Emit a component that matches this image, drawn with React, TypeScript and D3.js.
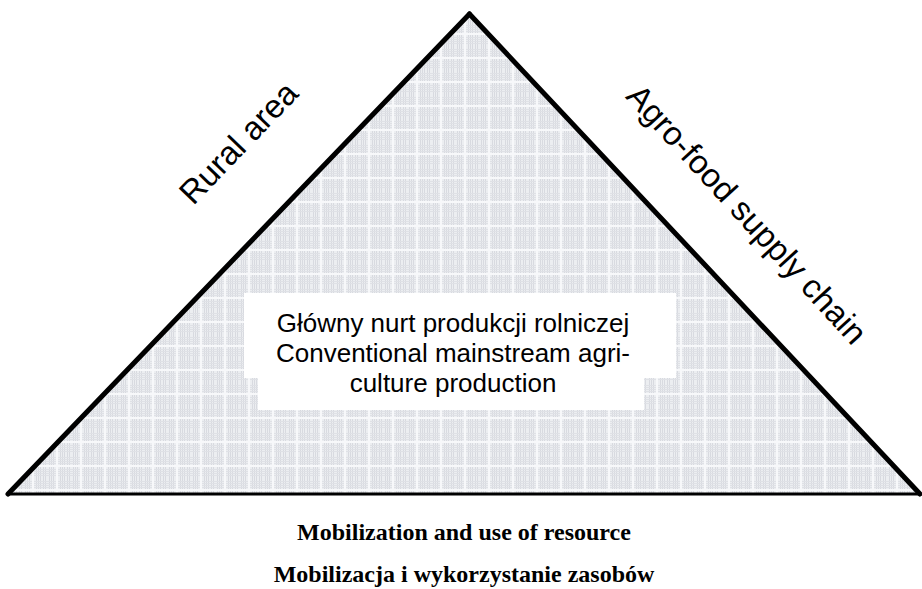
import React from "react";
import * as d3 from "d3";

// triangle corners in unit space (x: 0..1 across the base, y: 0..1 up)
const cornerNames = ["baseLeft", "apex", "baseRight"];
const cornerX = [0, 0.506, 1];
const cornerY = [0, 1, 0];

const sideLabels = ["Rural area", "Agro-food supply chain"];
const centreLines = [
    "Główny nurt produkcji rolniczej",
    "Conventional mainstream agri-",
    "culture production",
];
const bottomLines = [
    "Mobilization and use of resource",
    "Mobilizacja i wykorzystanie zasobów",
];

// pattern stripe offsets (px inside a 24px tile)
const stripeV = [1, 3, 5, 12, 14, 16, 19, 21];
const stripeH = [1, 3, 5, 7, 13, 15, 17, 19];

const W = 922;
const H = 589;

export default function App() {
    const x = d3.scaleLinear().domain([0, 1]).range([8, 920]);
    const y = d3.scaleLinear().domain([0, 1]).range([494, 14]);

    const pts: [number, number][] = cornerNames.map((_, i) => [x(cornerX[i]), y(cornerY[i])]);
    const tri = d3.line()(pts) + "Z";

    const [bl, ap, br] = pts;

    // place a label along an edge: t = fraction along, off = perpendicular distance
    const along = (a: [number, number], b: [number, number], t: number, off: number) => {
        const dx = b[0] - a[0];
        const dy = b[1] - a[1];
        const len = Math.hypot(dx, dy);
        const nx = dy / len;
        const ny = -dx / len;
        return {
            x: a[0] + dx * t + nx * off,
            y: a[1] + dy * t + ny * off,
            angle: (Math.atan2(dy, dx) * 180) / Math.PI,
        };
    };

    const left = along(bl, ap, 0.62, 66);
    const right = along(ap, br, 0.51, 54);

    const cx = 453;

    return (
        <svg width={W} height={H} style={{ position: "absolute", left: 0, top: 0, background: "#fff" }}>
            <defs>
                <pattern id="grid" width={24} height={24} patternUnits="userSpaceOnUse">
                    <rect width={24} height={24} fill="#eceef1" />
                    {stripeV.map((v) => (
                        <rect key={"v" + v} x={v} y={0} width={1} height={24} fill="#d8dae0" />
                    ))}
                    {stripeH.map((h) => (
                        <rect key={"h" + h} x={0} y={h} width={24} height={1} fill="#dfe1e6" />
                    ))}
                    <rect x={8} y={0} width={2} height={24} fill="#f7f8fa" />
                    <rect x={0} y={9} width={24} height={2} fill="#f7f8fa" />
                </pattern>
            </defs>

            <path d={tri} fill="url(#grid)" stroke="none" />

            {/* white text panel */}
            <rect x={244} y={293} width={432} height={85} fill="#fff" />
            <rect x={258} y={376} width={386} height={34} fill="#fff" />

            <line x1={bl[0]} y1={bl[1]} x2={ap[0]} y2={ap[1]} stroke="#000" strokeWidth={5} strokeLinecap="round" />
            <line x1={ap[0]} y1={ap[1]} x2={br[0]} y2={br[1]} stroke="#000" strokeWidth={5} strokeLinecap="round" />
            <line x1={bl[0]} y1={bl[1]} x2={br[0]} y2={br[1]} stroke="#000" strokeWidth={3} />

            <text
                transform={`translate(${left.x},${left.y}) rotate(${left.angle})`}
                textAnchor="middle"
                fontFamily="Liberation Sans, Arial, sans-serif"
                fontSize={33}
                fill="#000"
            >
                {sideLabels[0]}
            </text>
            <text
                transform={`translate(${right.x},${right.y}) rotate(${right.angle + 0.8})`}
                textAnchor="middle"
                fontFamily="Liberation Sans, Arial, sans-serif"
                fontSize={33}
                fill="#000"
            >
                {sideLabels[1]}
            </text>

            {centreLines.map((s, i) => (
                <text
                    key={s}
                    x={cx}
                    y={332 + i * 30}
                    textAnchor="middle"
                    fontFamily="Liberation Sans, Arial, sans-serif"
                    fontSize={26}
                    fill="#000"
                >
                    {s}
                </text>
            ))}

            {bottomLines.map((s, i) => (
                <text
                    key={s}
                    x={464}
                    y={540 + i * 42}
                    textAnchor="middle"
                    fontFamily="Liberation Serif, Times New Roman, serif"
                    fontWeight="bold"
                    fontSize={24}
                    fill="#000"
                >
                    {s}
                </text>
            ))}
        </svg>
    );
}
